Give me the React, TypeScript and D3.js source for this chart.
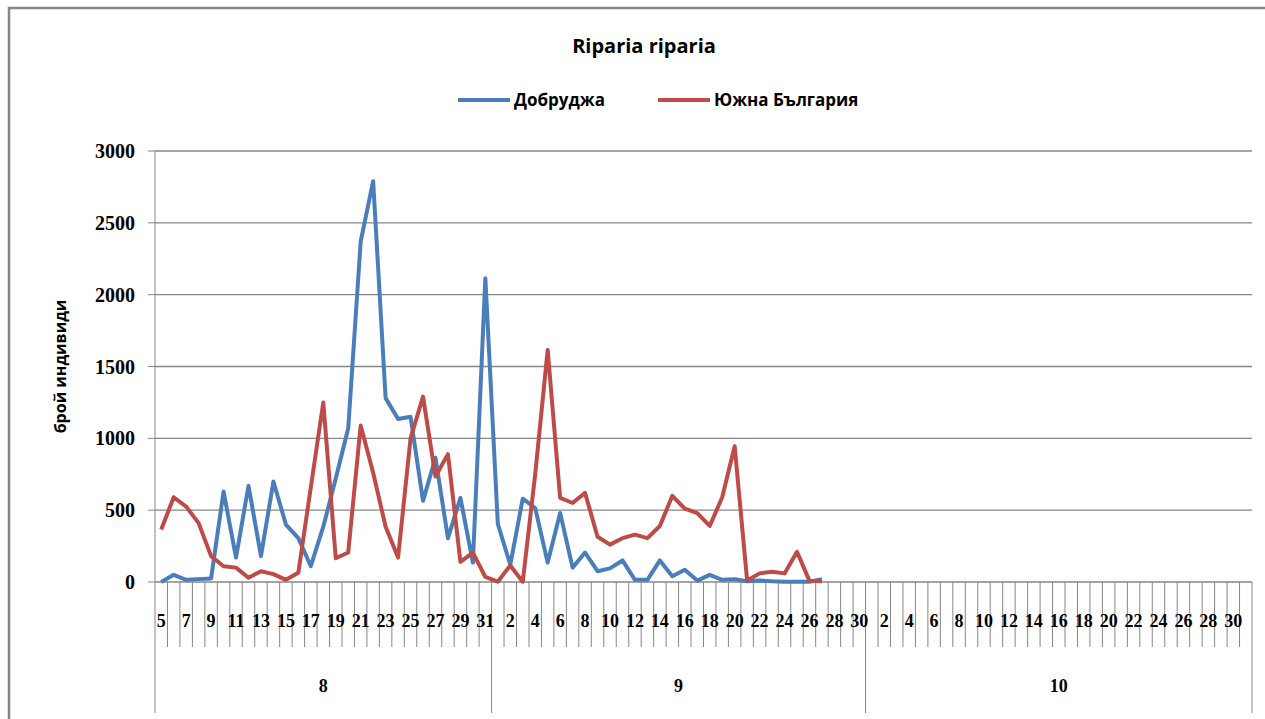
import * as d3 from 'd3';

// категории: дни по месеци (5 авг - 31 окт)
const augDays = d3.range(5, 32);
const sepDays = d3.range(1, 31);
const octDays = d3.range(1, 32);
const monthLabels = ['8', '9', '10'];

// брой индивиди, 5 авг - 27 сеп (след това няма данни)
const dobrudzhaAug = [0, 50, 15, 20, 25, 630, 170, 670, 180, 700, 400, 305, 110, 385, 720, 1070, 2370, 2790, 1280, 1135, 1150, 565, 865, 305, 585, 135, 2115];
const dobrudzhaSep = [405, 120, 580, 515, 135, 480, 100, 205, 75, 95, 150, 15, 15, 150, 40, 85, 10, 50, 15, 20, 5, 10, 5, 2, 2, 2, 20];
const southAug = [365, 590, 525, 410, 180, 110, 100, 30, 75, 55, 15, 65, 660, 1250, 165, 205, 1090, 760, 385, 170, 1000, 1290, 735, 890, 140, 205, 35];
const southSep = [2, 115, 2, 750, 1615, 585, 550, 620, 315, 260, 305, 330, 305, 390, 600, 510, 480, 390, 590, 945, 10, 60, 72, 60, 210, 8, 5];

const yTicks = [0, 500, 1000, 1500, 2000, 2500, 3000];

const seriesNames = ['Добруджа', 'Южна България'];
const colors = ['#4A7EBB', '#BE4B48'];

const W = 1265;
const H = 719;
const margin = { top: 151, right: 13, bottom: 137, left: 155 };

export default function App() {
  const months = [augDays, sepDays, octDays];
  const cats = months.flatMap((days, m) => days.map(d => ({ m, d })));
  const n = cats.length;

  const pad = (arr: number[]) => arr.concat(new Array(n - arr.length).fill(null));
  const series = [
    pad(dobrudzhaAug.concat(dobrudzhaSep)),
    pad(southAug.concat(southSep)),
  ];

  const x = d3.scaleBand<number>()
    .domain(d3.range(n))
    .range([margin.left, W - margin.right]);
  const bw = x.bandwidth();
  const y = d3.scaleLinear().domain([0, 3000]).range([H - margin.bottom, margin.top]);

  const line = d3.line<number | null>()
    .defined(d => d != null)
    .x((d, i) => (x(i) as number) + bw / 2)
    .y(d => y(d as number));

  const x0 = margin.left;
  const x1 = W - margin.right;
  const yBase = y(0);
  const grid = '#868686';

  // граници на месеците
  const bounds = [0];
  months.forEach(days => bounds.push(bounds[bounds.length - 1] + days.length));

  const serif = '"Liberation Serif", serif';
  const sans = '"Open Sans", Lato, sans-serif';

  return (
    <svg width={W} height={H} style={{ position: 'absolute', left: 0, top: 0, background: '#fff' }}>
      <rect x={9} y={8} width={W + 20} height={H + 20} fill="#fff" stroke="#868686" strokeWidth={2.5} />

      <text x={644} y={53} textAnchor="middle" fontFamily={sans} fontWeight="bold" fontSize={20}>
        Riparia riparia
      </text>

      {/* легенда */}
      {seriesNames.map((name, i) => {
        const lx = i === 0 ? 458 : 658;
        return (
          <g key={name}>
            <line x1={lx} x2={lx + 52} y1={100} y2={100} stroke={colors[i]} strokeWidth={4} />
            <text x={lx + 56} y={106} fontFamily={sans} fontWeight="bold" fontSize={17}>{name}</text>
          </g>
        );
      })}

      {/* решетка и ос Y */}
      {yTicks.map(t => (
        <g key={t}>
          {t > 0 && <line x1={x0} x2={x1} y1={y(t)} y2={y(t)} stroke={grid} strokeWidth={1.3} />}
          <line x1={x0 - 7} x2={x0} y1={y(t)} y2={y(t)} stroke={grid} strokeWidth={1} />
          <text x={135} y={y(t)} dy="0.35em" textAnchor="end" fontFamily={serif} fontWeight="bold" fontSize={20}>{t}</text>
        </g>
      ))}
      <line x1={x0} x2={x0} y1={margin.top} y2={yBase} stroke={grid} strokeWidth={1} />

      <text transform={`translate(66,${(margin.top + yBase) / 2}) rotate(-90)`} textAnchor="middle"
        fontFamily={sans} fontWeight="bold" fontSize={16}>
        брой индивиди
      </text>

      {/* ос X */}
      <line x1={x0} x2={x1} y1={yBase} y2={yBase} stroke={grid} strokeWidth={1.3} />
      {d3.range(n + 1).map(i => {
        const xx = x0 + i * bw;
        const isBound = bounds.includes(i);
        return <line key={i} x1={xx} x2={xx} y1={yBase} y2={isBound ? 713 : 647} stroke={grid} strokeWidth={1} />;
      })}
      {cats.map((c, i) => i % 2 === 0 && (
        <text key={i} x={(x(i) as number) + bw / 2} y={627} textAnchor="middle"
          fontFamily={serif} fontWeight="bold" fontSize={18}>{c.d}</text>
      ))}
      {monthLabels.map((m, k) => (
        <text key={m} x={x0 + (bounds[k] + bounds[k + 1]) / 2 * bw} y={692} textAnchor="middle"
          fontFamily={serif} fontWeight="bold" fontSize={18}>{m}</text>
      ))}

      {/* линии */}
      {series.map((s, i) => (
        <path key={i} d={line(s) || ''} fill="none" stroke={colors[i]} strokeWidth={4} strokeLinejoin="round" />
      ))}
    </svg>
  );
}
